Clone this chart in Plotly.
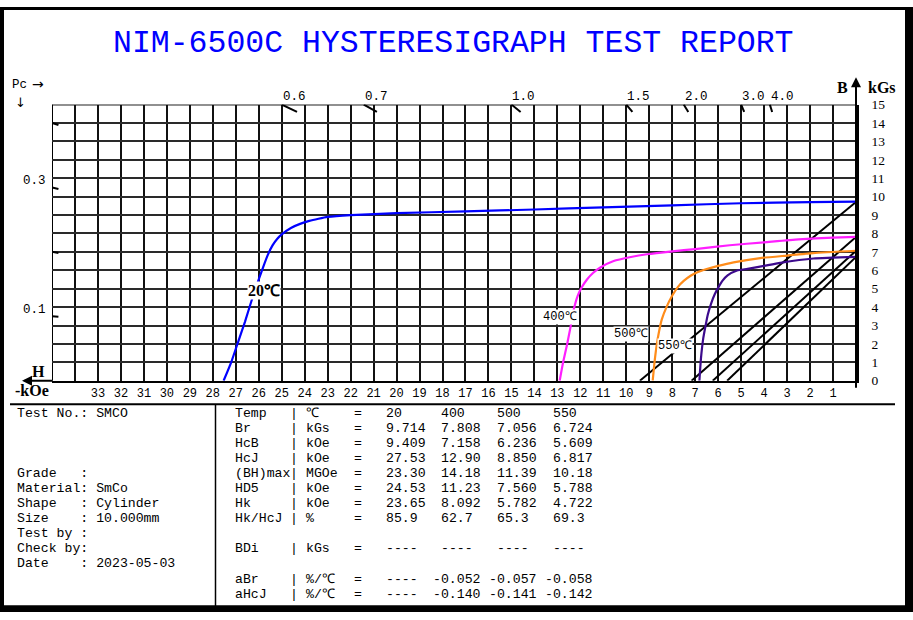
import plotly.graph_objects as go

W, HT = 913, 620

# ---------------- data ----------------
temps = ["20", "400", "500", "550"]
Br = [9.714, 7.808, 7.056, 6.724]
HcB = [9.409, 7.158, 6.236, 5.609]
HcJ = [27.53, 12.90, 8.850, 6.817]
BHmax = [23.30, 14.18, 11.39, 10.18]
HD5 = [24.53, 11.23, 7.560, 5.788]
Hk = [23.65, 8.092, 5.782, 4.722]
HkHcJ = [85.9, 62.7, 65.3, 69.3]
aBr = [None, -0.052, -0.057, -0.058]
aHcJ = [None, -0.140, -0.141, -0.142]

# intrinsic demagnetisation curves (H in kOe, J in kGs)
H_20 = [27.53, 27.2, 26.9, 26.6, 26.3, 26.0, 25.8, 25.6, 25.4, 25.2, 25.0, 24.6, 24.2, 23.8, 23.4, 23.0,
        22.0, 20.0, 17.0, 14.0, 11.0, 8.0, 5.0, 2.0, 0.0]
J_20 = [0.0, 1.0, 2.1, 3.2, 4.4, 5.5, 6.2, 6.85, 7.35, 7.7, 7.95, 8.3, 8.52, 8.68, 8.8, 8.9,
        9.0, 9.1, 9.2, 9.3, 9.42, 9.53, 9.64, 9.7, 9.73]
H_400 = [12.90, 12.75, 12.58, 12.43, 12.29, 12.12, 11.95, 11.71, 11.45, 11.13, 10.55, 9.8, 9.1, 8.0,
         7.0, 5.5, 4.0, 2.5, 1.0, 0.0]
J_400 = [0.0, 1.0, 1.95, 2.9, 3.85, 4.6, 5.05, 5.5, 5.85, 6.15, 6.5, 6.72, 6.87, 7.03,
         7.15, 7.36, 7.52, 7.68, 7.77, 7.81]
H_500 = [8.85, 8.78, 8.68, 8.57, 8.45, 8.25, 8.01, 7.75, 7.5, 7.2, 6.93, 6.5, 6.0, 5.33, 4.17, 3.0, 1.86, 0.0]
J_500 = [0.0, 0.9, 1.9, 2.7, 3.35, 4.0, 4.6, 5.1, 5.42, 5.7, 5.88, 6.07, 6.24, 6.43, 6.66, 6.8, 6.93, 7.06]
H_550 = [6.817, 6.75, 6.65, 6.57, 6.45, 6.3, 6.15, 5.98, 5.8, 5.59, 5.18, 4.72, 4.0, 3.3, 1.86, 0.0]
J_550 = [0.0, 1.2, 2.3, 2.85, 3.6, 4.22, 4.7, 5.1, 5.45, 5.72, 5.99, 6.08, 6.24, 6.4, 6.64, 6.73]

curve_H = [H_20, H_400, H_500, H_550]
curve_J = [J_20, J_400, J_500, J_550]
curve_colors = ["#0000ff", "#ff1eff", "#ff8c1a", "#3c0a8c"]

# permeance coefficient marks
pc_top = [0.6, 0.7, 1.0, 1.5, 2.0, 3.0, 4.0]
pc_top_labels = ["0.6", "0.7", "1.0", "1.5", "2.0", "3.0", "4.0"]
pc_left = [0.1, 0.2, 0.3, 0.4]
pc_left_labels = ["0.1", "", "0.3", ""]

x_ticks = list(range(0, 36))
x_ticktext = ["" if (v == 0 or v > 33) else str(v) for v in x_ticks]
y_ticks = list(range(0, 16))

left_info = [("Test No.: SMCO", 0), ("Grade   :", 4), ("Material: SmCo", 5), ("Shape   : Cylinder", 6),
             ("Size    : 10.000mm", 7), ("Test by :", 8), ("Check by:", 9), ("Date    : 2023-05-03", 10)]


def f4(v):
    return f"{v:.2f}" if abs(v) >= 10 else f"{v:.3f}"


def fneg(v):
    return "----" if v is None else f"{v:.3f}"


table_rows = [
    ("Temp", "℃", temps, 0),
    ("Br", "kGs", [f4(v) for v in Br], 1),
    ("HcB", "kOe", [f4(v) for v in HcB], 2),
    ("HcJ", "kOe", [f4(v) for v in HcJ], 3),
    ("(BH)max", "MGOe", [f4(v) for v in BHmax], 4),
    ("HD5", "kOe", [f4(v) for v in HD5], 5),
    ("Hk", "kOe", [f4(v) for v in Hk], 6),
    ("Hk/HcJ", "%", [f"{v:.1f}" for v in HkHcJ], 7),
    ("BDi", "kGs", ["----"] * 4, 9),
    ("aBr", "%/℃", [fneg(v) for v in aBr], 11),
    ("aHcJ", "%/℃", [fneg(v) for v in aHcJ], 12),
]

# ---------------- helpers ----------------
def px(x):
    return x / W


def py(y):
    return 1 - y / HT


MONO = "Liberation Mono"
SERIF = "Liberation Serif"

fig = go.Figure()

# normal (B-H) curves: straight lines from Br to HcB
for b, h in zip(Br, HcB):
    fig.add_trace(go.Scatter(x=[0, h], y=[b, 0], mode="lines",
                             line=dict(color="black", width=2), hoverinfo="skip"))

# intrinsic curves
for hs, js, c in zip(curve_H, curve_J, curve_colors):
    fig.add_trace(go.Scatter(x=hs, y=js, mode="lines", line=dict(color=c, width=2.2, shape="spline", smoothing=0.5),
                             hoverinfo="skip"))

# permeance marks at the top
for pc in pc_top:
    fig.add_trace(go.Scatter(x=[15 / pc, 14.6 / pc], y=[15, 14.6], mode="lines",
                             line=dict(color="black", width=2), hoverinfo="skip", cliponaxis=False))
# permeance marks at the left edge
for pc in pc_left:
    fig.add_trace(go.Scatter(x=[35, 34.72], y=[35 * pc, 34.72 * pc], mode="lines",
                             line=dict(color="black", width=2), hoverinfo="skip", cliponaxis=False))

ann = []
# title
ann.append(dict(x=px(453), y=py(37), xref="paper", yref="paper", text="NIM-6500C HYSTERESIGRAPH TEST REPORT",
                showarrow=False, font=dict(family=MONO, size=31.5, color="#0000ff"), xanchor="center", yanchor="middle"))

# Pc labels
for pc, lab in zip(pc_top, pc_top_labels):
    ann.append(dict(x=15 / pc, y=15, xref="x", yref="y", text=lab, showarrow=False, xanchor="left", yanchor="middle",
                    yshift=8, xshift=-1, font=dict(family=MONO, size=12.5, color="black")))
for pc, lab in zip(pc_left, pc_left_labels):
    if lab:
        ann.append(dict(x=35, y=35 * pc, xref="x", yref="y", text=lab, showarrow=False, xanchor="right",
                        yanchor="middle", yshift=6, xshift=-4, font=dict(family=MONO, size=12.5, color="black")))

ann.append(dict(x=px(11), y=py(80), xref="paper", yref="paper", text="Pc", showarrow=False, xanchor="left",
                yanchor="middle", borderpad=0, font=dict(family=MONO, size=12.5, color="black")))
ann.append(dict(x=px(38), y=py(79), xref="paper", yref="paper", text="→", showarrow=False, xanchor="center",
                yanchor="middle", borderpad=0, font=dict(family="DejaVu Sans", size=14, color="black")))
ann.append(dict(x=px(20), y=py(98), xref="paper", yref="paper", text="↓", showarrow=False, xanchor="center",
                yanchor="middle", borderpad=0, font=dict(family="DejaVu Sans", size=13, color="black")))

# axis names
ann.append(dict(x=px(842), y=py(82), xref="paper", yref="paper", text="<b>B</b>", showarrow=False,
                font=dict(family=SERIF, size=16, color="black"), xanchor="center", yanchor="middle"))
ann.append(dict(x=px(882), y=py(83), xref="paper", yref="paper", text="<b>kGs</b>", showarrow=False,
                font=dict(family=SERIF, size=16, color="black"), xanchor="center", yanchor="middle"))
ann.append(dict(x=px(38), y=py(374), xref="paper", yref="paper", text="<b>H</b>", showarrow=False,
                font=dict(family=SERIF, size=16, color="black"), xanchor="center", yanchor="middle"))
ann.append(dict(x=px(32), y=py(393), xref="paper", yref="paper", text="<b>-kOe</b>", showarrow=False,
                font=dict(family=SERIF, size=16, color="black"), xanchor="center", yanchor="middle"))

# arrows (axis extensions)
ann.append(dict(x=px(856), y=py(72), xref="paper", yref="paper", text="", showarrow=True, ax=0, ay=312,
                axref="pixel", ayref="pixel", arrowhead=2, arrowsize=1, arrowwidth=2, arrowcolor="black"))
ann.append(dict(x=px(22), y=py(383), xref="paper", yref="paper", text="", showarrow=True, ax=32, ay=0,
                axref="pixel", ayref="pixel", arrowhead=2, arrowsize=1, arrowwidth=2, arrowcolor="black"))

# curve labels
ann.append(dict(x=px(247), y=py(291), xref="paper", yref="paper", text="<b>20℃</b>", showarrow=False,
                font=dict(family=SERIF, size=16, color="black"), bgcolor="white", borderpad=0))
ann.append(dict(x=px(560), y=py(318), xref="paper", yref="paper", text="400℃", showarrow=False,
                font=dict(family=MONO, size=12, color="black"), bgcolor="white", borderpad=0))
ann.append(dict(x=px(649), y=py(335), xref="paper", yref="paper", text="500℃", showarrow=False,
                font=dict(family=MONO, size=12, color="black"), bgcolor="white", borderpad=0))
ann.append(dict(x=px(693), y=py(347), xref="paper", yref="paper", text="550℃", showarrow=False,
                font=dict(family=MONO, size=12, color="black"), bgcolor="white", borderpad=0))

# ---------------- table ----------------
CW = 7.95
ROW0 = 416.8
RP = 15.4
TF = dict(family=MONO, size=13.2, color="black")
for txt, r in left_info:
    ann.append(dict(x=px(15), y=py(ROW0 + r * RP), xref="paper", yref="paper", text=txt.replace(" ", "\u00a0"),
                    showarrow=False, xanchor="left", yanchor="middle", font=TF))

X0 = 232.7
for name, unit, vals, r in table_rows:
    yy = py(ROW0 + r * RP)
    ann.append(dict(x=px(X0), y=yy, xref="paper", yref="paper", text=name, showarrow=False,
                    xanchor="left", yanchor="middle", font=TF))
    ann.append(dict(x=px(X0 + 7 * CW), y=yy, xref="paper", yref="paper", text="|", showarrow=False,
                    xanchor="left", yanchor="middle", font=TF))
    ann.append(dict(x=px(X0 + 9 * CW), y=yy, xref="paper", yref="paper", text=unit, showarrow=False,
                    xanchor="left", yanchor="middle", font=TF))
    ann.append(dict(x=px(X0 + 15 * CW), y=yy, xref="paper", yref="paper", text="=", showarrow=False,
                    xanchor="left", yanchor="middle", font=TF))
    for i, v in enumerate(vals):
        col = 19 + 7 * i
        if v.startswith("-") and v != "----":
            col -= 1
        ann.append(dict(x=px(X0 + col * CW), y=yy, xref="paper", yref="paper", text=v, showarrow=False,
                        xanchor="left", yanchor="middle", font=TF))

shapes = [
    # table lines
    dict(type="line", xref="paper", yref="paper", x0=px(10), x1=px(895), y0=py(407), y1=py(407),
         line=dict(color="black", width=2)),
    dict(type="line", xref="paper", yref="paper", x0=px(215.5), x1=px(215.5), y0=py(407), y1=py(614),
         line=dict(color="black", width=1.5)),
    # outer frame
    dict(type="rect", xref="paper", yref="paper", x0=0, x1=px(4), y0=0, y1=1, fillcolor="black", line_width=0),
    dict(type="rect", xref="paper", yref="paper", x0=px(905), x1=1, y0=0, y1=1, fillcolor="black", line_width=0),
    dict(type="rect", xref="paper", yref="paper", x0=0, x1=1, y0=py(3), y1=1, fillcolor="black", line_width=0),
    dict(type="rect", xref="paper", yref="paper", x0=0, x1=1, y0=0, y1=py(613), fillcolor="black", line_width=0),
    # plot top & left border
    dict(type="line", xref="x", yref="y", x0=35, x1=0, y0=15, y1=15, line=dict(color="#222", width=2), layer="below"),
    dict(type="line", xref="x", yref="y", x0=35, x1=35, y0=0, y1=15, line=dict(color="black", width=2), layer="below"),
]

fig.update_layout(
    width=W, height=HT, margin=dict(l=0, r=0, t=0, b=0),
    paper_bgcolor="white", plot_bgcolor="white", showlegend=False,
    xaxis=dict(domain=[52 / W, 856 / W], range=[35, 0], tickvals=x_ticks, ticktext=x_ticktext,
               showgrid=True, gridcolor="#111", gridwidth=1.6, zeroline=False, showline=True,
               linecolor="black", linewidth=2, ticks="", tickfont=dict(family=MONO, size=12, color="black"),
               fixedrange=True),
    yaxis=dict(domain=[1 - 383 / HT, 1 - 100 / HT], range=[0, 15], side="right", tickvals=y_ticks,
               showgrid=True, gridcolor="#2a2a2a", gridwidth=1.9, zeroline=False, showline=True,
               linecolor="black", linewidth=2.5, ticks="", ticklabelstandoff=10,
               tickfont=dict(family=SERIF, size=13.5, color="black"), fixedrange=True),
    annotations=ann, shapes=shapes,
)

fig.write_html("out.html", config={"displayModeBar": False},
               post_script="document.documentElement.style.margin='0';document.body.style.margin='0';"
                           "document.body.style.overflow='hidden';document.body.style.background='white';")
